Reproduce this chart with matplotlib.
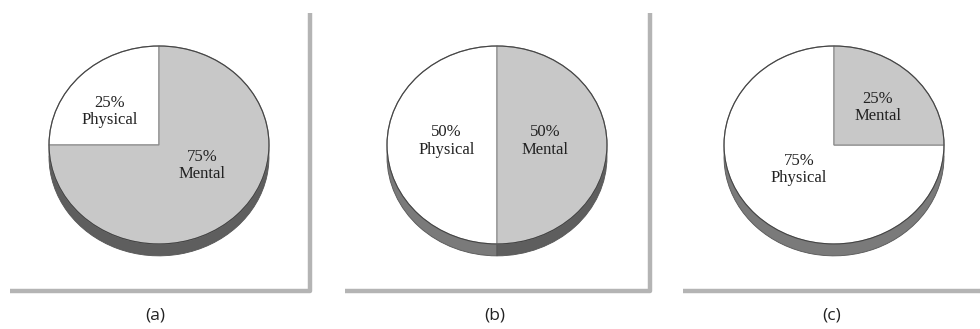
import matplotlib.pyplot as plt

# share of each kind of effort per scenario
panels = ['(a)', '(b)', '(c)']
categories = ['Physical', 'Mental']
physical = [25, 50, 75]
mental = [75, 50, 25]

# layout in pixels (figure is 980 x 329)
W, H = 980, 329
centers = [(159, 145), (497, 145), (834, 145)]
rx, ry = 110, 99
depth = 0.12
label_pos = [
    [(-0.45, 0.34), (0.39, -0.21)],
    [(-0.46, 0.04), (0.44, 0.04)],
    [(-0.32, -0.25), (0.40, 0.38)],
]
frames = [
    [(10, 291), (310, 291), (310, 13)],
    [(345, 291), (650, 291), (650, 13)],
    [(683, 291), (980, 291)],
]
caption_x = [155, 495, 832]

colors = ['#ffffff', '#c8c8c8']
side_colors = ['#7a7a7a', '#5e5e5e']

fig = plt.figure(figsize=(W / 100, H / 100), dpi=100)

# overlay in pixel coordinates for the frames and captions
bg = fig.add_axes([0, 0, 1, 1])
bg.set_xlim(0, W)
bg.set_ylim(H, 0)
bg.axis('off')

for i, name in enumerate(panels):
    cx, cy = centers[i]
    vals = [physical[i], mental[i]]
    pad = 1.3
    ax = fig.add_axes([(cx - pad * rx) / W, 1 - (cy + pad * ry) / H,
                       2 * pad * rx / W, 2 * pad * ry / H])
    # side of the disc: the same pie pushed down
    ax.pie(vals, colors=side_colors, startangle=90, center=(0, -depth),
           wedgeprops=dict(linewidth=0.6, edgecolor='#555555'))
    # top face
    ax.pie(vals, colors=colors, startangle=90,
           wedgeprops=dict(linewidth=0.8, edgecolor='#8a8a8a'))
    ax.add_patch(plt.matplotlib.patches.Ellipse((0, 0), 2, 2, fill=False,
                                                lw=0.8, ec='#444444'))
    ax.set_aspect('auto')
    ax.set_xlim(-pad, pad)
    ax.set_ylim(-pad, pad)
    ax.axis('off')

    for j, cat in enumerate(categories):
        lx, ly = label_pos[i][j]
        ax.text(lx, ly, f'{vals[j]}%\n{cat}', ha='center', va='center',
                family='Liberation Serif', fontsize=12, color='#222222',
                linespacing=1.1)

    xs, ys = zip(*frames[i])
    bg.plot(xs, ys, color='#b4b4b4', lw=3.2, solid_capstyle='butt')
    bg.text(caption_x[i], 316, name, ha='center', va='center',
            family='Open Sans', fontsize=12.5, color='#222222')

fig.savefig('out.png', dpi=100)
